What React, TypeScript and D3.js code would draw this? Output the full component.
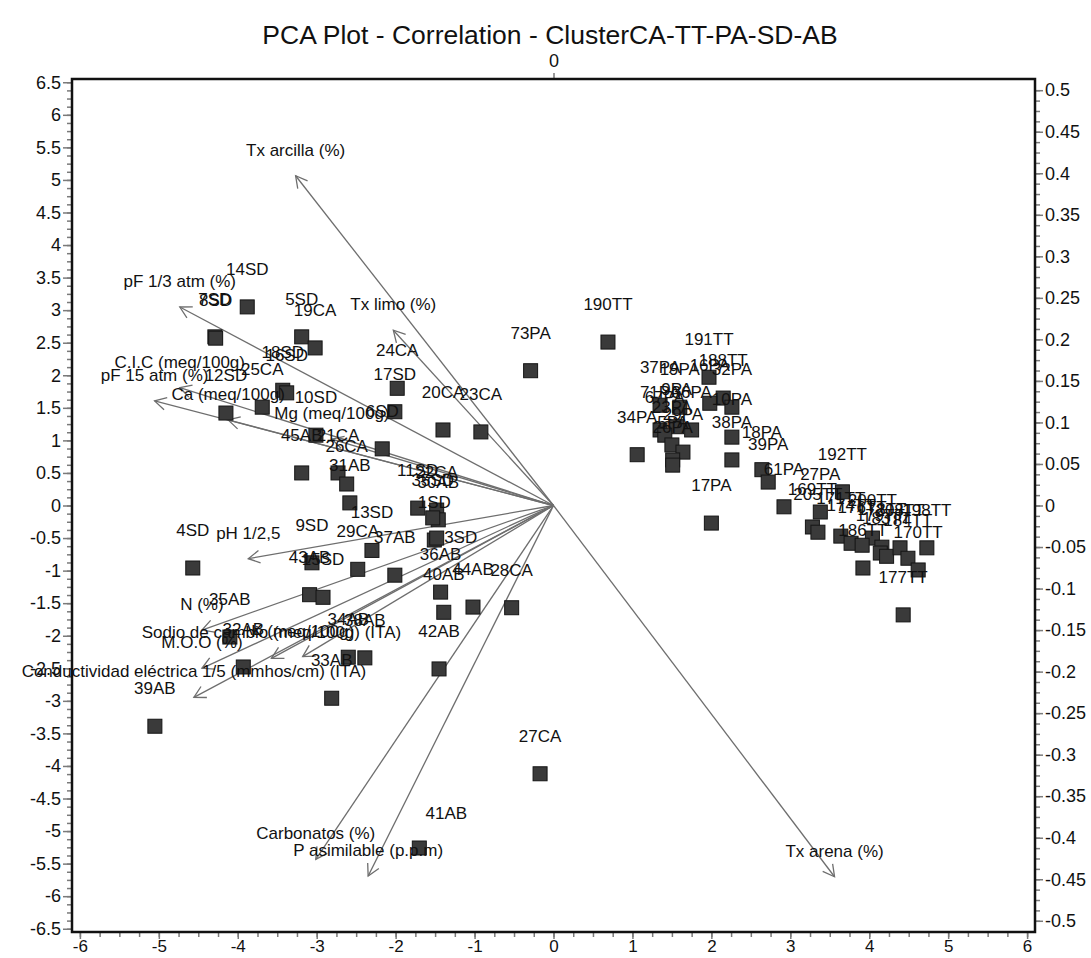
import React, { useRef, useEffect } from "react";
import * as d3 from "d3";

// observations (F1 / F2 scores)
const obsNames = [
  "14SD", "7SD", "8SD", "5SD", "19CA", "18SD", "16SD", "25CA", "12SD", "10SD",
  "6SD", "17SD", "24CA", "20CA", "23CA", "73PA", "190TT", "45AB", "21CA", "26CA",
  "31AB", "11SD", "22CA", "30AB", "35SD", "1SD", "3SD", "13SD", "9SD", "29CA",
  "37AB", "4SD", "43AB", "15SD", "35AB", "32AB", "34AB", "38AB", "33AB", "39AB",
  "36AB", "40AB", "44AB", "28CA", "42AB", "27CA", "41AB",
  "191TT", "188TT", "16PA", "32PA", "37PA", "19PA", "9PA", "71PA", "67PA", "36PA",
  "34PA", "23PA", "29PA", "38PA", "10PA", "18PA", "39PA", "61PA", "27PA", "5PA",
  "26PA", "17PA",
  "192TT", "169TT", "205TT", "200TT", "171TT", "174TT", "176TT", "186TT", "178TT", "179TT",
  "183TT", "208TT", "184TT", "170TT", "198TT", "177TT",
];
const obsF1 = [
  -3.88, -4.29, -4.28, -3.19, -3.02, -3.43, -3.38, -3.69, -4.15, -3.01,
  -2.17, -2.01, -1.98, -1.40, -0.92, -0.29, 0.69, -3.19, -2.73, -2.62,
  -2.58, -1.72, -1.48, -1.46, -1.53, -1.51, -1.48, -2.30, -3.06, -2.48,
  -2.01, -4.57, -3.09, -2.92, -4.10, -3.93, -2.60, -2.39, -2.81, -5.05,
  -1.43, -1.39, -1.02, -0.53, -1.45, -0.17, -1.70,
  1.97, 2.15, 1.98, 2.26, 1.35, 1.60, 1.56, 1.35, 1.41, 1.75,
  1.06, 1.50, 1.64, 2.26, 2.26, 2.64, 2.72, 2.92, 3.38, 1.51,
  1.51, 2.00,
  3.66, 3.28, 3.35, 4.04, 3.64, 3.77, 3.91, 3.92, 4.16, 4.14,
  4.22, 4.39, 4.49, 4.62, 4.73, 4.43,
];
const obsF2 = [
  3.05, 2.59, 2.57, 2.59, 2.42, 1.77, 1.73, 1.51, 1.42, 1.08,
  0.87, 1.44, 1.80, 1.16, 1.13, 2.07, 2.51, 0.50, 0.50, 0.33,
  0.04, -0.04, -0.07, -0.22, -0.19, -0.53, -0.50, -0.69, -0.88, -0.98,
  -1.07, -0.96, -1.37, -1.41, -2.02, -2.48, -2.33, -2.34, -2.96, -3.39,
  -1.33, -1.64, -1.56, -1.57, -2.51, -4.12, -5.26,
  1.97, 1.65, 1.57, 1.51, 1.54, 1.51, 1.21, 1.16, 1.08, 1.16,
  0.78, 0.93, 0.82, 0.70, 1.05, 0.55, 0.36, -0.02, -0.10, 0.70,
  0.62, -0.27,
  0.21, -0.33, -0.41, -0.50, -0.47, -0.58, -0.61, -0.96, -0.64, -0.73,
  -0.78, -0.65, -0.81, -0.99, -0.65, -1.68,
];

// variables (loadings, secondary axes)
const varNames = [
  "Tx arcilla (%)", "pF 1/3 atm (%)", "Tx limo (%)", "C.I.C (meq/100g)", "pF 15 atm (%)",
  "Ca (meq/100g)", "Mg (meq/100g)", "pH 1/2,5", "N (%)", "Sodio de cambio (meq/100g) (ITA)",
  "K (meq/100g)", "M.O.O (%)", "Conductividad eléctrica 1/5 (mmhos/cm) (ITA)",
  "Carbonatos (%)", "P asimilable (p.p.m)", "Tx arena (%)",
];
const varF1 = [
  -0.256, -0.371, -0.159, -0.371, -0.396, -0.323, -0.22, -0.303, -0.349, -0.28,
  -0.249, -0.349, -0.357, -0.236, -0.184, 0.279,
];
const varF2 = [
  0.397, 0.239, 0.211, 0.142, 0.126, 0.103, 0.08, -0.064, -0.15, -0.184,
  -0.182, -0.196, -0.231, -0.426, -0.446, -0.447,
];

const title = "PCA Plot - Correlation - ClusterCA-TT-PA-SD-AB";

// a few labels that the original placed away from their point (px offsets)
const labelShift: Record<string, [number, number]> = {
  "3SD": [24, -1],
  "41AB": [27, -35],
};

const W = 1091;
const H = 958;
const frame = { left: 72, right: 1035, top: 79, bottom: 932 };
const font = "'Liberation Sans', Arial, sans-serif";

const fmt = v => String(+v.toFixed(3));

const App = () => {
  const svgRef = useRef();

  useEffect(() => {
    document.body.style.margin = "0";
    const svg = d3.select(svgRef.current);
    svg.selectAll("*").remove();

    const x = d3.scaleLinear().domain([-6.1, 6.1]).range([frame.left, frame.right]);
    const y = d3.scaleLinear().domain([-6.55, 6.55]).range([frame.bottom, frame.top]);
    const xTop = d3.scaleLinear().domain([-0.478, 0.478]).range([frame.left, frame.right]);
    const yRight = d3.scaleLinear().domain([-0.5135, 0.5135]).range([frame.bottom, frame.top]);

    svg.append("text")
      .attr("x", 550).attr("y", 44)
      .attr("text-anchor", "middle")
      .style("font-family", font).style("font-size", "26.5px")
      .attr("fill", "#111")
      .text(title);

    const styleAxis = (g, withText, fs = 18) => {
      g.select(".domain").remove();
      g.selectAll(".tick line").attr("stroke", "#7a7a7a").attr("stroke-width", 1.5);
      g.selectAll("text")
        .style("font-family", font).style("font-size", fs + "px").attr("fill", "#111");
      if (!withText) g.selectAll("text").remove();
    };

    // left axis
    const leftMajor = d3.range(-6.5, 6.51, 0.5);
    const leftMinor = d3.range(-6.5, 6.51, 0.125);
    svg.append("g").attr("transform", `translate(${frame.left},0)`)
      .call(d3.axisLeft(y).tickValues(leftMinor).tickSize(5).tickSizeOuter(0))
      .call(g => styleAxis(g, false));
    svg.append("g").attr("transform", `translate(${frame.left},0)`)
      .call(d3.axisLeft(y).tickValues(leftMajor).tickSize(9).tickPadding(2).tickSizeOuter(0).tickFormat(fmt))
      .call(g => styleAxis(g, true));

    // bottom axis
    const botMajor = d3.range(-6, 6.01, 1);
    const botMinor = d3.range(-6, 6.01, 0.25);
    svg.append("g").attr("transform", `translate(0,${frame.bottom})`)
      .call(d3.axisBottom(x).tickValues(botMinor).tickSize(5).tickSizeOuter(0))
      .call(g => styleAxis(g, false));
    svg.append("g").attr("transform", `translate(0,${frame.bottom})`)
      .call(d3.axisBottom(x).tickValues(botMajor).tickSize(7).tickPadding(1).tickSizeOuter(0).tickFormat(fmt))
      .call(g => styleAxis(g, true, 17));

    // right axis
    const rightMajor = d3.range(-0.5, 0.501, 0.05);
    const rightMinor = d3.range(-0.5, 0.501, 0.0125);
    svg.append("g").attr("transform", `translate(${frame.right},0)`)
      .call(d3.axisRight(yRight).tickValues(rightMinor).tickSize(5).tickSizeOuter(0))
      .call(g => styleAxis(g, false));
    svg.append("g").attr("transform", `translate(${frame.right},0)`)
      .call(d3.axisRight(yRight).tickValues(rightMajor).tickSize(8).tickPadding(2).tickSizeOuter(0).tickFormat(fmt))
      .call(g => styleAxis(g, true));

    // top axis, only the zero
    svg.append("g").attr("transform", `translate(0,${frame.top})`)
      .call(d3.axisTop(xTop).tickValues([0]).tickSize(6).tickPadding(6).tickSizeOuter(0).tickFormat(fmt))
      .call(g => styleAxis(g, true));

    // frame
    svg.append("rect")
      .attr("x", frame.left).attr("y", frame.top)
      .attr("width", frame.right - frame.left).attr("height", frame.bottom - frame.top)
      .attr("fill", "none").attr("stroke", "#111").attr("stroke-width", 2.5);

    // variable vectors
    const vars = varNames.map((name, i) => ({ name, fx: varF1[i], fy: varF2[i] }));
    const x0 = xTop(0), y0 = yRight(0);
    const vg = svg.append("g").attr("stroke", "#6e6e6e").attr("stroke-width", 1.3).attr("fill", "none");
    vars.forEach(v => {
      const tx = xTop(v.fx), ty = yRight(v.fy);
      vg.append("line").attr("x1", x0).attr("y1", y0).attr("x2", tx).attr("y2", ty);
      const ang = Math.atan2(y0 - ty, x0 - tx);
      const len = 13, spread = 0.5;
      const head = d3.line()([
        [tx + len * Math.cos(ang + spread), ty + len * Math.sin(ang + spread)],
        [tx, ty],
        [tx + len * Math.cos(ang - spread), ty + len * Math.sin(ang - spread)],
      ]);
      vg.append("path").attr("d", head);
    });

    // observations
    const obs = obsNames.map((name, i) => ({ name, fx: obsF1[i], fy: obsF2[i] }));
    const size = 14;
    svg.append("g")
      .selectAll("rect")
      .data(obs)
      .join("rect")
      .attr("x", d => x(d.fx) - size / 2)
      .attr("y", d => y(d.fy) - size / 2)
      .attr("width", size).attr("height", size)
      .attr("fill", "#3a3a3a").attr("stroke", "#151515").attr("stroke-width", 1);

    const labelG = svg.append("g")
      .style("font-family", font).style("font-size", "17px")
      .attr("fill", "#111").attr("text-anchor", "middle");

    labelG.selectAll("text.obs")
      .data(obs)
      .join("text")
      .attr("class", "obs")
      .attr("x", d => x(d.fx) + (labelShift[d.name] ? labelShift[d.name][0] : 0))
      .attr("y", d => y(d.fy) + (labelShift[d.name] ? labelShift[d.name][1] : -38))
      .attr("dy", "0.35em")
      .text(d => d.name);

    labelG.selectAll("text.var")
      .data(vars)
      .join("text")
      .attr("class", "var")
      .attr("x", d => xTop(d.fx))
      .attr("y", d => yRight(d.fy) - 26)
      .attr("dy", "0.35em")
      .text(d => d.name);
  }, []);

  return (
    <svg ref={svgRef} width={W} height={H} style={{ display: "block", background: "#fff" }} />
  );
};

export default App;
